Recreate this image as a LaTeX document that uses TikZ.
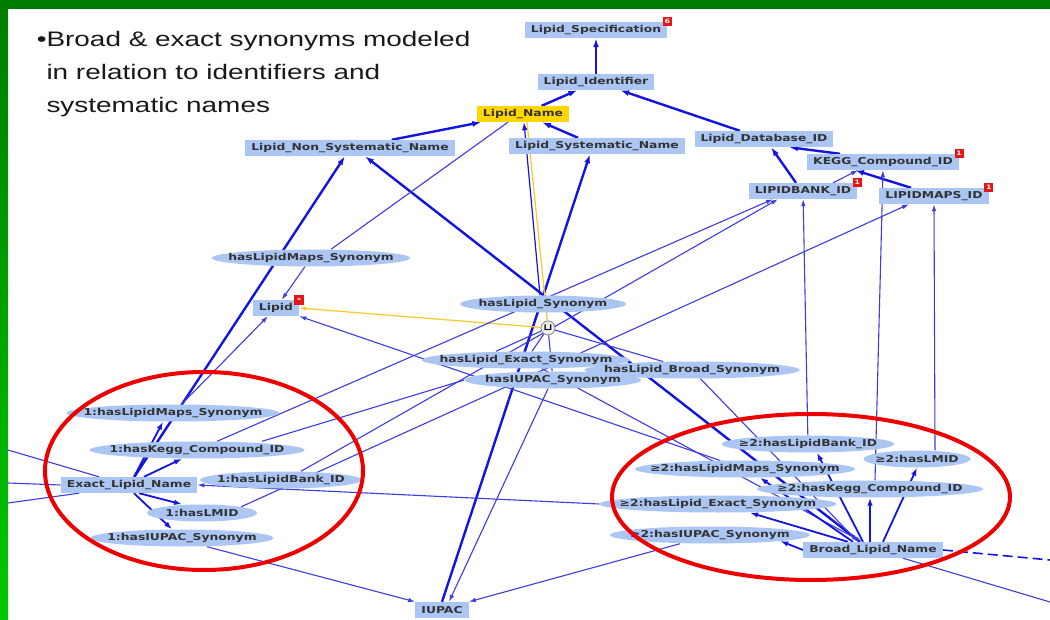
\documentclass[tikz,border=0pt]{standalone}
\usepackage{fontspec}
\setmainfont{Liberation Sans}
\newfontfamily\titlefont{Liberation Sans}[FakeStretch=1.33]
\newfontfamily\nodefont{DejaVu Sans}[FakeStretch=1.3]
\usepackage{tikz}
\usetikzlibrary{arrows.meta,positioning,shapes.geometric,backgrounds}
\definecolor{clsblue}{RGB}{172,198,244}
\definecolor{nameyellow}{RGB}{255,214,0}
\definecolor{edgeblue}{RGB}{20,20,225}
\definecolor{thinblue}{RGB}{60,60,225}
\definecolor{unionyellow}{RGB}{250,200,40}
\definecolor{ringred}{RGB}{238,0,0}
\definecolor{badgered}{RGB}{230,20,20}
\definecolor{framegreen}{RGB}{0,125,0}
\definecolor{framelight}{RGB}{0,200,0}
\tikzset{
  cls/.style    ={rectangle,fill=clsblue,inner xsep=6pt,inner ysep=0pt,minimum height=16pt,
                  text=black!80,font=\nodefont\bfseries\fontsize{9.5}{10}\selectfont},
  prop/.style   ={ellipse,fill=clsblue,inner xsep=-40pt,inner ysep=0pt,minimum height=17pt,
                  minimum width=#1,text=black!80,font=\nodefont\bfseries\fontsize{9.5}{10}\selectfont},
  badge/.style  ={rectangle,fill=badgered,text=white,inner sep=0pt,minimum size=9pt,
                  font=\nodefont\bfseries\fontsize{6}{6}\selectfont},
  unionnode/.style={circle,draw=gray,fill=gray!12,thick,minimum size=14pt,inner sep=0pt,
                  font=\nodefont\bfseries\fontsize{9}{9}\selectfont},
  headline/.style={align=left,font=\titlefont\fontsize{21}{33}\selectfont,text=black!90},
  isaedge/.style  ={draw=edgeblue,line width=2.4pt,-{Latex[length=9pt,width=6pt]}},
  restredge/.style={draw=edgeblue,line width=1.8pt,-{Latex[length=8pt,width=5.5pt]}},
  rangeedge/.style={draw=thinblue,line width=1.1pt,-{Latex[length=7pt,width=4.5pt]}},
  plainedge/.style={draw=thinblue,line width=1.1pt},
  unionedge/.style={draw=unionyellow,line width=1.2pt},
  cutedge/.style  ={draw=edgeblue,line width=1.6pt,dash pattern=on 10pt off 5pt},
  ring/.style     ={draw=ringred,line width=4pt},
}
\begin{document}
\begin{tikzpicture}[x=1pt,y=-1pt]
  \useasboundingbox (0,0) rectangle (1050,620);
  \begin{scope}[on background layer]
    \fill[white] (0,0) rectangle (1050,620);
    \fill[framegreen] (0,0) rectangle (1050,9);
    \shade[top color=framegreen,bottom color=framelight] (0,9) rectangle (8,620);
  \end{scope}

  \node[headline,anchor=base west] (head) at (43,47)
    {\begin{tabular}[t]{@{}l@{}}\llap{\textbullet}Broad \& exact synonyms modeled\\
     in relation to identifiers and\\ systematic names\end{tabular}};

  % classes
  \node[cls] (spec)   at (596,30)  {Lipid\_Specification};
  \node[cls] (ident)  at (596,82)  {Lipid\_Identifier};
  \node[cls,fill=nameyellow] (lname) at (523,114) {Lipid\_Name};
  \node[cls] (nonsys) at (350,148) {Lipid\_Non\_Systematic\_Name};
  \node[cls] (sys)    at (597,146) {Lipid\_Systematic\_Name};
  \node[cls] (dbid)   at (764,139) {Lipid\_Database\_ID};
  \node[cls] (kegg)   at (883,162) {KEGG\_Compound\_ID};
  \node[cls] (lbank)  at (803,191) {LIPIDBANK\_ID};
  \node[cls] (lmaps)  at (934,196) {LIPIDMAPS\_ID};
  \node[cls] (lipid)  at (276,308) {Lipid};
  \node[cls] (iupac)  at (442,610) {IUPAC};
  \node[cls] (exact)  at (129,485) {Exact\_Lipid\_Name};
  \node[cls] (broad)  at (873,550) {Broad\_Lipid\_Name};

  \node[badge] (specb)  at (spec.north east)  {6};
  \node[badge] (keggb)  at (kegg.north east)  {1};
  \node[badge] (lbankb) at (lbank.north east) {1};
  \node[badge] (lmapsb) at (lmaps.north east) {1};
  \node[badge,minimum size=10pt] (lipidb) at (lipid.north east) {*};

  % properties
  \node[prop=198pt] (mapsyn) at (311,258) {hasLipidMaps\_Synonym};
  \node[prop=166pt] (syn)    at (543,304) {hasLipid\_Synonym};
  \node[prop=208pt] (exsyn)  at (526,360) {hasLipid\_Exact\_Synonym};
  \node[prop=215pt] (brsyn)  at (692,370) {hasLipid\_Broad\_Synonym};
  \node[prop=177pt] (iusyn)  at (553,380) {hasIUPAC\_Synonym};
  \node[unionnode]  (un)     at (548,328) {⊔};

  \node[prop=213pt] (emaps)  at (173,413) {1:hasLipidMaps\_Synonym};
  \node[prop=215pt] (ekegg)  at (197,450) {1:hasKegg\_Compound\_ID};
  \node[prop=162pt] (ebank)  at (281,480) {1:hasLipidBank\_ID};
  \node[prop=110pt] (elmid)  at (202,513) {1:hasLMID};
  \node[prop=183pt] (eiupac) at (182,538) {1:hasIUPAC\_Synonym};

  \node[prop=173pt] (bbank)  at (808,444) {≥2:hasLipidBank\_ID};
  \node[prop=107pt] (blmid)  at (917,459) {≥2:hasLMID};
  \node[prop=220pt] (bmaps)  at (745,469) {≥2:hasLipidMaps\_Synonym};
  \node[prop=226pt] (bkegg)  at (870,489) {≥2:hasKegg\_Compound\_ID};
  \node[prop=237pt] (bexact) at (718,504) {≥2:hasLipid\_Exact\_Synonym};
  \node[prop=200pt] (biupac) at (710,535) {≥2:hasIUPAC\_Synonym};

  \coordinate (offa) at (8,450);
  \coordinate (offb) at (8,483);
  \coordinate (offc) at (8,503);
  \coordinate (offd) at (1050,560);
  \coordinate (offe) at (1050,602);

  \begin{scope}[on background layer]
    % is-a
    \draw[isaedge] (ident) -- (spec);
    \draw[isaedge] (lname) -- (ident);
    \draw[isaedge] (dbid) -- (ident);
    \draw[isaedge] (nonsys) -- (lname);
    \draw[isaedge] (sys) -- (lname);
    \draw[isaedge] (exact) -- ([xshift=-5pt]nonsys.south);
    \draw[isaedge] ([xshift=-13pt]broad.north) -- ([xshift=15pt]nonsys.south);
    \draw[isaedge] (iupac.north) -- ([xshift=-7pt]sys.south);
    \draw[isaedge] ([xshift=-7pt]lbank.north) -- ([xshift=7pt]dbid.south);
    \draw[isaedge] ([xshift=-43pt]kegg.north) -- ([xshift=25pt]dbid.south);
    \draw[isaedge] ([xshift=-23pt]lmaps.north) -- ([xshift=-28pt]kegg.south);
    % ranges
    \draw[rangeedge] ([xshift=30pt]lbank.north) -- ([xshift=-25pt]kegg.south);
    \draw[rangeedge] (mapsyn) -- (lipid);
    \draw[rangeedge] (emaps) -- (lipid);
    \draw[rangeedge] (bmaps) -- (lipid.south east);
    \draw[restredge,line width=1.2pt] ([xshift=-3pt]syn.north) -- ([xshift=1pt]lname.south);
    \draw[unionedge] (un) -- ([xshift=4pt]lname.south);
    \draw[unionedge,-{Latex[length=7pt,width=4.5pt]}] (un) -- (lipid.east);
    \draw[plainedge] ([xshift=-15pt]lname.south) -- ([xshift=20pt]mapsyn.north);
    \draw[rangeedge] (bbank) -- (lbank);
    \draw[rangeedge] ([xshift=18pt]blmid.north) -- (lmaps.south);
    \draw[rangeedge] ([xshift=5pt]bkegg.north) -- (kegg.south);
    \draw[rangeedge] ([xshift=20pt]ekegg.north) -- ([xshift=-30pt]lbank.south);
    \draw[rangeedge] ([xshift=20pt]ebank.north) -- ([xshift=-25pt]lbank.south);
    \draw[rangeedge] (elmid.north east) -- ([xshift=-25pt]lmaps.south);
    \draw[plainedge] ([xshift=65pt]ekegg.north) -- (iusyn.west);
    \draw[rangeedge] ([xshift=25pt]eiupac.south) -- (iupac.north west);
    \draw[rangeedge] ([xshift=-30pt]biupac.south) -- (iupac.north east);
    \draw[rangeedge] ([xshift=-5pt]iusyn.south) -- ([xshift=7pt]iupac.north);
    \draw[rangeedge] (bexact.west) -- (exact.east);
    \draw[rangeedge] (brsyn) -- ([xshift=-15pt]broad.north);
    \draw[rangeedge] (exsyn) -- ([xshift=-11pt]broad.north);
    \draw[plainedge] (un) -- (brsyn);
    \draw[plainedge] (un) -- (exsyn);
    \draw[plainedge] (un) -- ([xshift=-30pt]exsyn.north);
    \draw[plainedge] (un) -- (iusyn);
    % restrictions
    \draw[restredge] ([xshift=5pt]exact.north) -- ([xshift=-10pt]emaps.south);
    \draw[restredge] ([xshift=15pt]exact.north) -- ([xshift=-15pt]ekegg.south);
    \draw[restredge] ([xshift=10pt]exact.south) -- ([xshift=-20pt]elmid.north);
    \draw[restredge] ([xshift=5pt]exact.south) -- ([xshift=-10pt]eiupac.north);
    \draw[restredge] ([xshift=-20pt]broad.north) -- ([xshift=15pt]bmaps.south);
    \draw[restredge] ([xshift=-10pt]broad.north) -- ([xshift=9pt]bbank.south);
    \draw[restredge] ([xshift=-3pt]broad.north) -- (bkegg.south);
    \draw[restredge] ([xshift=10pt]broad.north) -- (blmid.south);
    \draw[restredge] ([xshift=-25pt]broad.north) -- ([xshift=32pt]bexact.south);
    \draw[restredge] (broad.west) -- ([xshift=-30pt,yshift=-6pt]biupac.east);
    % leaving the view
    \draw[plainedge] (offa) -- ([xshift=-30pt]exact.north);
    \draw[plainedge] (offb) -- (exact.west);
    \draw[plainedge] (offc) -- ([xshift=-50pt]exact.south);
    \draw[cutedge] (broad.east) -- (offd);
    \draw[plainedge] ([xshift=30pt]broad.south) -- (offe);
  \end{scope}

  \draw[ring] (204,471) ellipse [x radius=159pt,y radius=99pt];
  \draw[ring] (811,497) ellipse [x radius=199pt,y radius=83pt];
\end{tikzpicture}
\end{document}
